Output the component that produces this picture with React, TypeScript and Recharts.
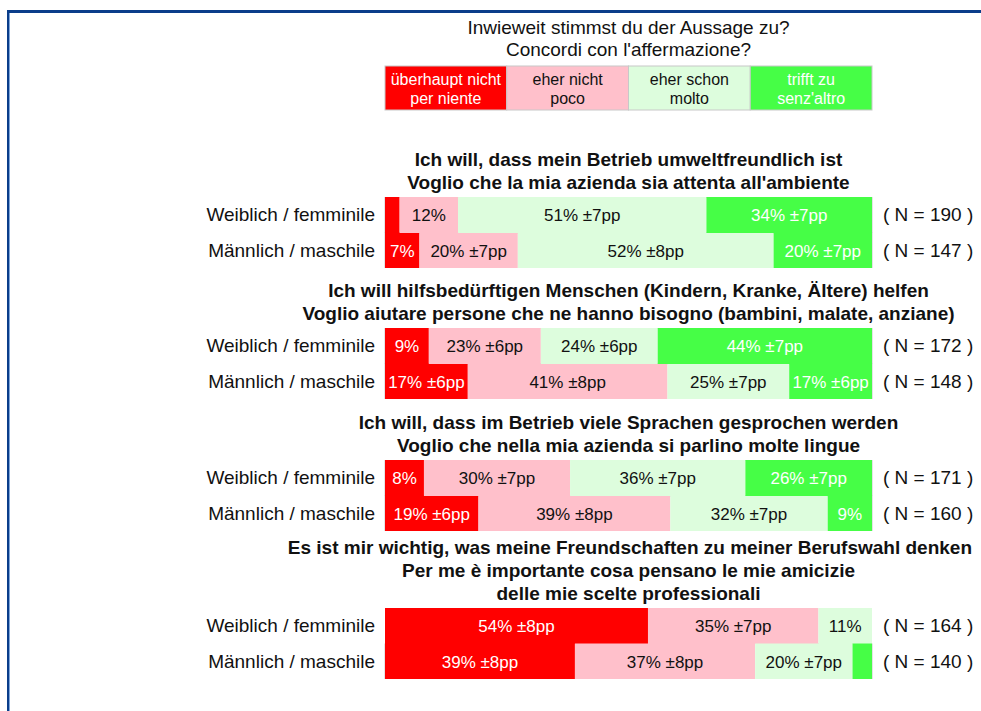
import { Bar, BarChart, LabelList, XAxis, YAxis } from "recharts";

const FONT = "'Liberation Sans', Arial, Helvetica, sans-serif";

const QUESTION = ["Inwieweit stimmst du der Aussage zu?", "Concordi con l'affermazione?"];
const LEVELS_DE = ["überhaupt nicht", "eher nicht", "eher schon", "trifft zu"];
const LEVELS_IT = ["per niente", "poco", "molto", "senz'altro"];
const ROW_LABELS = ["Weiblich / femminile", "Männlich / maschile"];

const TITLES = [
  ["Ich will, dass mein Betrieb umweltfreundlich ist", "Voglio che la mia azienda sia attenta all'ambiente"],
  [
    "Ich will hilfsbedürftigen Menschen (Kindern, Kranke, Ältere) helfen",
    "Voglio aiutare persone che ne hanno bisogno (bambini, malate, anziane)",
  ],
  ["Ich will, dass im Betrieb viele Sprachen gesprochen werden", "Voglio che nella mia azienda si parlino molte lingue"],
  [
    "Es ist mir wichtig, was meine Freundschaften zu meiner Berufswahl denken",
    "Per me è importante cosa pensano le mie amicizie",
    "delle mie scelte professionali",
  ],
];

// [weiblich, männlich] per question
const SAMPLE_N = [[190, 147], [172, 148], [171, 160], [164, 140]];
const PCT_NONE = [[3, 7], [9, 17], [8, 19], [54, 39]];
const PCT_LOW = [[12, 20], [23, 41], [30, 39], [35, 37]];
const PCT_HIGH = [[51, 52], [24, 25], [36, 32], [11, 20]];
const PCT_FULL = [[34, 20], [44, 17], [26, 9], [0, 4]];
// margin of error in percentage points (null = not shown)
const PP_NONE = [[null, null], [null, 6], [null, 6], [8, 8]];
const PP_LOW = [[null, 7], [6, 8], [7, 8], [7, 8]];
const PP_HIGH = [[7, 8], [6, 7], [7, 7], [null, 7]];
const PP_FULL = [[7, 7], [7, 6], [7, null], [null, null]];

const COLORS = ["#ff0000", "#ffc0cb", "#ddfddd", "#46fe46"];
const TEXT_COLORS = ["#ffffff", "#111111", "#111111", "#ffffff"];

const BAR_TOPS = [197, 328, 460, 608];
const ROW_H = 71;

function label(v: number, pp: number | null) {
  if (v < 5) return "";
  return pp == null ? `${v}%` : `${v}% ±${pp}pp`;
}

function groupData(g: number) {
  return ROW_LABELS.map((name, r) => ({
    name,
    none: PCT_NONE[g][r],
    low: PCT_LOW[g][r],
    high: PCT_HIGH[g][r],
    full: PCT_FULL[g][r],
    noneLabel: label(PCT_NONE[g][r], PP_NONE[g][r]),
    lowLabel: label(PCT_LOW[g][r], PP_LOW[g][r]),
    highLabel: label(PCT_HIGH[g][r], PP_HIGH[g][r]),
    fullLabel: label(PCT_FULL[g][r], PP_FULL[g][r]),
    nLabel: `( N = ${SAMPLE_N[g][r]} )`,
  }));
}

const KEYS = ["none", "low", "high", "full"];

function GroupChart({ g }: { g: number }) {
  const data = groupData(g);
  return (
    <div style={{ position: "absolute", left: 0, top: BAR_TOPS[g] }}>
      <BarChart
        width={981}
        height={ROW_H}
        data={data}
        layout="vertical"
        stackOffset="expand"
        barCategoryGap={0}
        margin={{ top: 0, right: 0, bottom: 0, left: 0 }}
      >
        <XAxis type="number" hide domain={[0, 1]} />
        <YAxis
          yAxisId="left"
          type="category"
          dataKey="name"
          width={385}
          axisLine={false}
          tickLine={false}
          tickSize={8}
          tickMargin={2}
          tick={{ fontSize: 19, fill: "#111", fontFamily: FONT }}
        />
        <YAxis
          yAxisId="right"
          orientation="right"
          type="category"
          dataKey="nLabel"
          width={109}
          axisLine={false}
          tickLine={false}
          tickSize={8}
          tickMargin={3}
          tick={{ fontSize: 19, fill: "#111", fontFamily: FONT }}
        />
        {KEYS.map((k, i) => (
          <Bar
            key={k}
            yAxisId="left"
            dataKey={k}
            stackId="s"
            fill={COLORS[i]}
            isAnimationActive={false}
            background={i === 3 ? { fill: "none", stroke: "#c8c8c8", strokeWidth: 1 } : undefined}
          >
            <LabelList
              dataKey={`${k}Label`}
              position="center"
              fill={TEXT_COLORS[i]}
              fontSize={17}
              fontFamily={FONT}
            />
          </Bar>
        ))}
      </BarChart>
    </div>
  );
}

export default function App() {
  const legendW = (872 - 385) / 4;
  return (
    <div
      style={{
        position: "relative",
        width: 981,
        height: 711,
        overflow: "hidden",
        background: "#fff",
        fontFamily: FONT,
      }}
    >
      <style>{`body{margin:0}`}</style>
      <div
        style={{
          position: "absolute",
          left: 7,
          top: 10,
          width: 1000,
          height: 800,
          borderLeft: "2px solid #0a3d8a",
          borderTop: "3px solid #0a3d8a",
          boxShadow: "inset 1px 0 0 #7fa6db",
        }}
      />
      <svg width={981} height={711} style={{ position: "absolute", left: 0, top: 0 }} fontFamily={FONT}>
        <text x={628.5} y={34} textAnchor="middle" fontSize={19} fill="#111">
          {QUESTION[0]}
        </text>
        <text x={628.5} y={56} textAnchor="middle" fontSize={19} fill="#111">
          {QUESTION[1]}
        </text>
        {LEVELS_DE.map((t, i) => (
          <g key={t}>
            <rect
              x={385 + i * legendW}
              y={66}
              width={legendW}
              height={44}
              fill={COLORS[i]}
              stroke="#c8c8c8"
            />
            <text x={385 + (i + 0.5) * legendW} y={85} textAnchor="middle" fontSize={16} fill={TEXT_COLORS[i]}>
              {t}
            </text>
            <text x={385 + (i + 0.5) * legendW} y={104} textAnchor="middle" fontSize={16} fill={TEXT_COLORS[i]}>
              {LEVELS_IT[i]}
            </text>
          </g>
        ))}
        {TITLES.map((lines, g) =>
          lines.map((t, j) => {
            const y = BAR_TOPS[g] - 8 - (lines.length - 1 - j) * 23;
            const wide = g === 3 && j === 0;
            return (
              <text
                key={`${g}-${j}`}
                x={wide ? 972 : 628.5}
                y={y}
                textAnchor={wide ? "end" : "middle"}
                fontSize={19}
                fontWeight="bold"
                fill="#111"
              >
                {t}
              </text>
            );
          })
        )}
      </svg>
      {TITLES.map((_, g) => (
        <GroupChart key={g} g={g} />
      ))}
    </div>
  );
}
